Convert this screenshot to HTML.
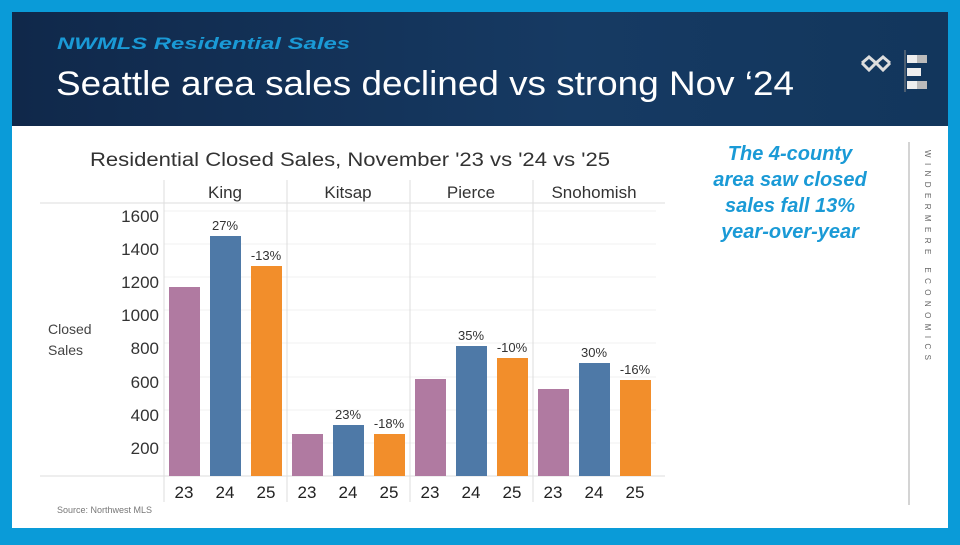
<!DOCTYPE html>
<html><head><meta charset="utf-8"><style>
body{margin:0;width:960px;height:540px;overflow:hidden;background:#0a9bd8;font-family:"Liberation Sans",sans-serif}
</style></head><body>
<svg width="960" height="540" xmlns="http://www.w3.org/2000/svg" font-family="Liberation Sans, sans-serif">
<defs><linearGradient id="hg" x1="0" x2="1" y1="0" y2="0"><stop offset="0" stop-color="#10284a"/><stop offset="0.6" stop-color="#163a63"/><stop offset="1" stop-color="#12365c"/></linearGradient></defs>
<rect x="0" y="0" width="960" height="540" fill="#0a9bd8"/>
<rect x="12" y="12" width="936" height="114" fill="url(#hg)"/>
<rect x="12" y="126" width="936" height="402" fill="#fff"/>
<text x="57" y="49" font-size="17" font-weight="bold" font-style="italic" fill="#1a9ad6" textLength="293" lengthAdjust="spacingAndGlyphs">NWMLS Residential Sales</text>
<text x="56" y="95" font-size="34" fill="#fff" textLength="738" lengthAdjust="spacingAndGlyphs">Seattle area sales declined vs strong Nov ‘24</text>
<g fill="none" stroke="#ddd" stroke-width="3"><path d="M862 63 l7 -6 l7 6 l7 -6 l7 6 M862 63 l7 7 l7 -7 l7 7 l7 -7"/></g>
<line x1="905" y1="50" x2="905" y2="92" stroke="#888" stroke-width="1"/>
<rect x="907" y="55" width="10" height="8" fill="#eee"/><rect x="917" y="55" width="10" height="8" fill="#bbb"/>
<rect x="907" y="68" width="14" height="8" fill="#eee"/><rect x="907" y="81" width="10" height="8" fill="#eee"/><rect x="917" y="81" width="10" height="8" fill="#bbb"/>
<text x="90" y="166" font-size="19" fill="#333" textLength="520" lengthAdjust="spacingAndGlyphs">Residential Closed Sales, November '23 vs '24 vs '25</text>
<g stroke="#f0f0f0" stroke-width="1">
<line x1="164" y1="443" x2="656" y2="443"/><line x1="164" y1="410" x2="656" y2="410"/><line x1="164" y1="377" x2="656" y2="377"/><line x1="164" y1="343" x2="656" y2="343"/><line x1="164" y1="310" x2="656" y2="310"/><line x1="164" y1="277" x2="656" y2="277"/><line x1="164" y1="244" x2="656" y2="244"/><line x1="164" y1="211" x2="656" y2="211"/>
</g>
<g stroke="#ddd" stroke-width="1">
<line x1="40" y1="203" x2="665" y2="203"/><line x1="40" y1="476" x2="665" y2="476"/>
<line x1="164" y1="180" x2="164" y2="502"/><line x1="287" y1="180" x2="287" y2="502"/><line x1="410" y1="180" x2="410" y2="502"/><line x1="533" y1="180" x2="533" y2="502"/>
</g>
<g font-size="17" fill="#333" text-anchor="middle">
<text x="225" y="198">King</text><text x="348" y="198">Kitsap</text><text x="471" y="198">Pierce</text><text x="594" y="198">Snohomish</text>
</g>
<g font-size="17" fill="#333" text-anchor="end">
<text x="159" y="222">1600</text><text x="159" y="255">1400</text><text x="159" y="288">1200</text><text x="159" y="321">1000</text><text x="159" y="354">800</text><text x="159" y="388">600</text><text x="159" y="421">400</text><text x="159" y="454">200</text>
</g>
<text x="48" y="334" font-size="14" fill="#444">Closed</text><text x="48" y="355" font-size="14" fill="#444">Sales</text>
<g>
<rect x="169" y="287" width="31" height="189" fill="#b07aa1"/><rect x="210" y="236" width="31" height="240" fill="#4e79a7"/><rect x="251" y="266" width="31" height="210" fill="#f28e2b"/>
<rect x="292" y="434" width="31" height="42" fill="#b07aa1"/><rect x="333" y="425" width="31" height="51" fill="#4e79a7"/><rect x="374" y="434" width="31" height="42" fill="#f28e2b"/>
<rect x="415" y="379" width="31" height="97" fill="#b07aa1"/><rect x="456" y="346" width="31" height="130" fill="#4e79a7"/><rect x="497" y="358" width="31" height="118" fill="#f28e2b"/>
<rect x="538" y="389" width="31" height="87" fill="#b07aa1"/><rect x="579" y="363" width="31" height="113" fill="#4e79a7"/><rect x="620" y="380" width="31" height="96" fill="#f28e2b"/>
</g>
<g font-size="13" fill="#333" text-anchor="middle">
<text x="225" y="230">27%</text><text x="266" y="260">-13%</text>
<text x="348" y="419">23%</text><text x="389" y="428">-18%</text>
<text x="471" y="340">35%</text><text x="512" y="352">-10%</text>
<text x="594" y="357">30%</text><text x="635" y="374">-16%</text>
</g>
<g font-size="17" fill="#222" text-anchor="middle">
<text x="184" y="498">23</text><text x="225" y="498">24</text><text x="266" y="498">25</text>
<text x="307" y="498">23</text><text x="348" y="498">24</text><text x="389" y="498">25</text>
<text x="430" y="498">23</text><text x="471" y="498">24</text><text x="512" y="498">25</text>
<text x="553" y="498">23</text><text x="594" y="498">24</text><text x="635" y="498">25</text>
</g>
<text x="57" y="513" font-size="9" fill="#777">Source: Northwest MLS</text>
<g font-size="20" font-weight="bold" font-style="italic" fill="#1a9ad6" text-anchor="middle">
<text x="790" y="160">The 4-county</text><text x="790" y="186">area saw closed</text><text x="790" y="212">sales fall 13%</text><text x="790" y="238">year-over-year</text>
</g>
<line x1="909" y1="142" x2="909" y2="505" stroke="#aaa" stroke-width="1"/>
<text transform="translate(925,150) rotate(90)" font-size="8" fill="#666" textLength="210" lengthAdjust="spacing">WINDERMERE ECONOMICS</text>
</svg>
</body></html>
